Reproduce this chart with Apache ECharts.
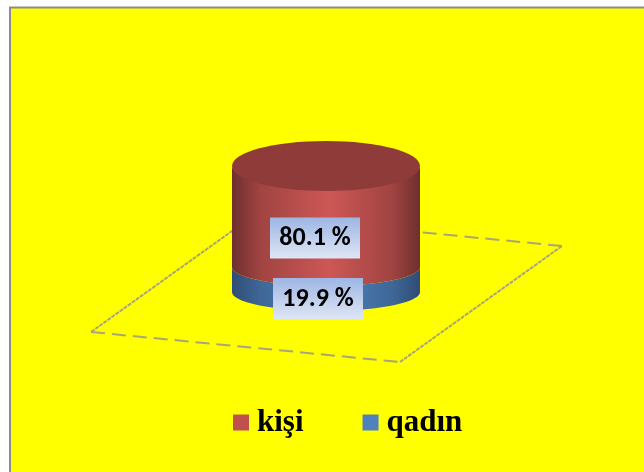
<!DOCTYPE html>
<html>
<head>
<meta charset="utf-8">
<style>html,body{margin:0;padding:0;background:#fff}#chart{width:644px;height:472px}</style>
<script src="https://cdn.jsdelivr.net/npm/echarts@6/dist/echarts.min.js"></script>
</head>
<body>
<div id="chart"></div>
<script>
var names = ['kişi', 'qadın'];
var values = [80.1, 19.9];
var labels = ['80.1 %', '19.9 %'];

var palette = {
    'kişi': {main: '#c0504d', edge: '#6e2f2e', side: '#a04442', mid: '#cd5755'},
    'qadın': {main: '#4f81bd', edge: '#2f4d75', side: '#3f6797', mid: '#4f81bd'}
};

var myChart = echarts.init(document.getElementById('chart'));

// 80.1在上面，19.9在下面，从0往上累加
var stackStart = {'qadın': 0, 'kişi': values[1]};

function renderSegment(params, api) {
    var name = names[params.seriesIndex];
    var from = api.value(1), to = api.value(2);
    var c = palette[name];
    var left = api.coord([0, 0])[0], right = api.coord([1, 0])[0];
    var cx = (left + right) / 2, rx = (right - left) / 2;
    var yTop = api.coord([0, to])[1], yBottom = api.coord([0, from])[1];
    var ry = 19;
    var pts = [];
    for (var i = 0; i <= 48; i++) {
        var a = Math.PI * i / 48;
        pts.push([cx + rx * Math.cos(a), yBottom + ry * Math.sin(a)]);
    }
    for (i = 48; i >= 0; i--) {
        a = Math.PI * i / 48;
        pts.push([cx + rx * Math.cos(a), yTop + ry * Math.sin(a)]);
    }
    var children = [{
        type: 'polygon',
        z2: name === 'kişi' ? 2 : 1,
        shape: {points: pts},
        style: {
            fill: new echarts.graphic.LinearGradient(0, 0, 1, 0, [
                {offset: 0, color: c.edge},
                {offset: 0.15, color: c.side},
                {offset: 0.52, color: c.mid},
                {offset: 0.85, color: c.side},
                {offset: 1, color: c.edge}
            ])
        }
    }];
    if (name === 'kişi') {
        children.push({
            type: 'ellipse',
            z2: 3,
            shape: {cx: cx, cy: yTop, rx: rx, ry: 25},
            style: {fill: '#8f3b3a'}
        });
    }
    // 数据标签，蓝底渐变框
    var midY = (yTop + yBottom) / 2 + (name === 'kişi' ? 21.5 : 19);
    var boxX = name === 'kişi' ? cx - 56 : cx - 53;
    children.push({
        type: 'rect',
        z2: 10,
        shape: {x: boxX, y: midY - 20.5, width: 90, height: 41},
        style: {
            fill: new echarts.graphic.LinearGradient(0, 0, 0, 1, [
                {offset: 0, color: '#9db6e3'},
                {offset: 1, color: '#dfe6f5'}
            ])
        }
    }, {
        type: 'text',
        z2: 11,
        style: {
            x: boxX + 45, y: midY + 1,
            text: labels[params.seriesIndex],
            align: 'center', verticalAlign: 'middle',
            font: 'bold 26px Carlito, "Open Sans", "Noto Sans", sans-serif',
            fill: '#000'
        }
    });
    return {type: 'group', children: children};
}

var seriesData = names.map(function (name, idx) {
    return {
        name: name,
        type: 'custom',
        coordinateSystem: 'cartesian2d',
        renderItem: renderSegment,
        itemStyle: {color: palette[name].main},
        silent: true,
        z: 5,
        data: [[0, stackStart[name], stackStart[name] + values[idx]]]
    };
});

var option = {
    backgroundColor: '#fff',
    animation: false,
    grid: {left: 232, width: 188, top: 166, height: 126},
    xAxis: {type: 'value', min: 0, max: 1, show: false},
    yAxis: {type: 'value', min: 0, max: 100, show: false},
    legend: {
        left: 228,
        top: 402,
        data: names,
        icon: 'rect',
        itemWidth: 16,
        itemHeight: 16,
        itemGap: 59,
        textStyle: {
            color: '#000',
            fontFamily: '"Liberation Serif", serif',
            fontWeight: 'bold',
            fontSize: 31,
            padding: [0, 0, 0, 3]
        }
    },
    graphic: [
        {type: 'rect', z: -10, shape: {x: 10, y: 7.5, width: 640, height: 470}, style: {fill: '#ffff00', stroke: '#8c8c8c', lineWidth: 2}},
        // 地板：前后两条长虚线，左右两条细密虚线
        {type: 'polyline', z: 1, shape: {points: [[91, 332], [400, 362]]},
            style: {fill: null, stroke: '#a6a678', lineWidth: 2, lineDash: [14, 7]}},
        {type: 'polyline', z: 1, shape: {points: [[562, 246], [253, 216]]},
            style: {fill: null, stroke: '#a6a678', lineWidth: 2, lineDash: [14, 7]}},
        {type: 'polyline', z: 1, shape: {points: [[253, 216], [91, 332]]},
            style: {fill: null, stroke: '#a6a678', lineWidth: 2, lineDash: [4, 1]}},
        {type: 'polyline', z: 1, shape: {points: [[400, 362], [562, 246]]},
            style: {fill: null, stroke: '#a6a678', lineWidth: 2, lineDash: [4, 1]}}
    ],
    series: seriesData
};
myChart.setOption(option);
</script>
</body>
</html>
